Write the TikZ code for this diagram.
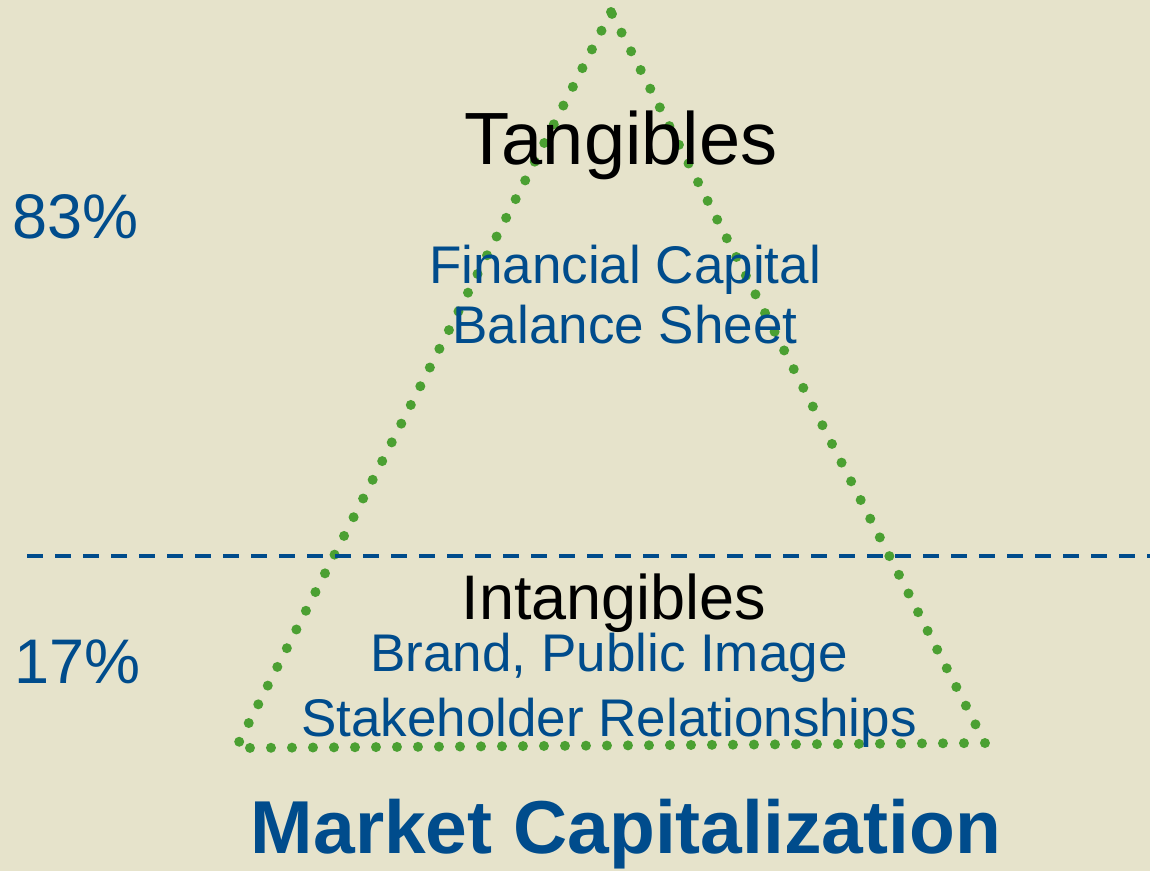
\documentclass[tikz,border=0pt]{standalone}
\usepackage{fontspec}
\setmainfont{Liberation Sans}
\usepackage{tikz}
\usetikzlibrary{positioning}

\definecolor{paper}{RGB}{230,227,203}
\definecolor{capblue}{RGB}{0,76,140}
\definecolor{dotgreen}{RGB}{75,160,50}

\newcommand{\fs}[1]{\fontsize{#1}{#1}\selectfont}

\begin{document}
\begin{tikzpicture}[
            x=1pt, y=-1pt,
            txt/.style={inner sep=0pt, anchor=base},
            head/.style={txt, text=black, font=\fs{74}},
            subhead/.style={txt, text=black, font=\fs{63}},
            item/.style={txt, text=capblue, font=\fs{53}},
            pct/.style={txt, anchor=base west, text=capblue, font=\fs{63}},
            caption/.style={txt, text=capblue, font=\bfseries\fs{75}},
            dotline/.style={dotgreen, line width=10pt, line cap=round,
            dash pattern=on 0pt off 21pt},
            split/.style={capblue, line width=4pt, dash pattern=on 16pt off 12pt}
        ]
% --- page ---
            \fill[paper] (0,0) rectangle (1150,871);
            \useasboundingbox (0,0) rectangle (1150,871);

% --- triangle corners ---
            \coordinate (top)   at (611,12);
            \coordinate (left)  at (236,748);
            \coordinate (right) at (985,743);

            \draw[dotline] (top) -- (left) -- (right) -- cycle;

% --- split between the two shares ---
            \coordinate (sl) at (27,556);
            \coordinate (sr) at (1150,556);
            \draw[split] (sl) -- (sr);

% --- upper part ---
            \node[head]    (tan)  at (621,164) {Tangibles};
            \node[item]    (fin)  at (625,283) {Financial Capital};
            \node[item]    (bal)  at (625,343) {Balance Sheet};
            \node[pct]     (p83)  at (12,238)  {83\%};

% --- lower part ---
            \node[subhead] (intg) at (614,619) {Intangibles};
            \node[item]    (brd)  at (609,671) {Brand, Public Image};
            \node[item]    (stk)  at (609,736) {Stakeholder Relationships};
            \node[pct]     (p17)  at (14,683)  {17\%};

% --- caption ---
            \node[caption] (mcap) at (626,853) {Market Capitalization};
        \end{tikzpicture}
\end{document}
